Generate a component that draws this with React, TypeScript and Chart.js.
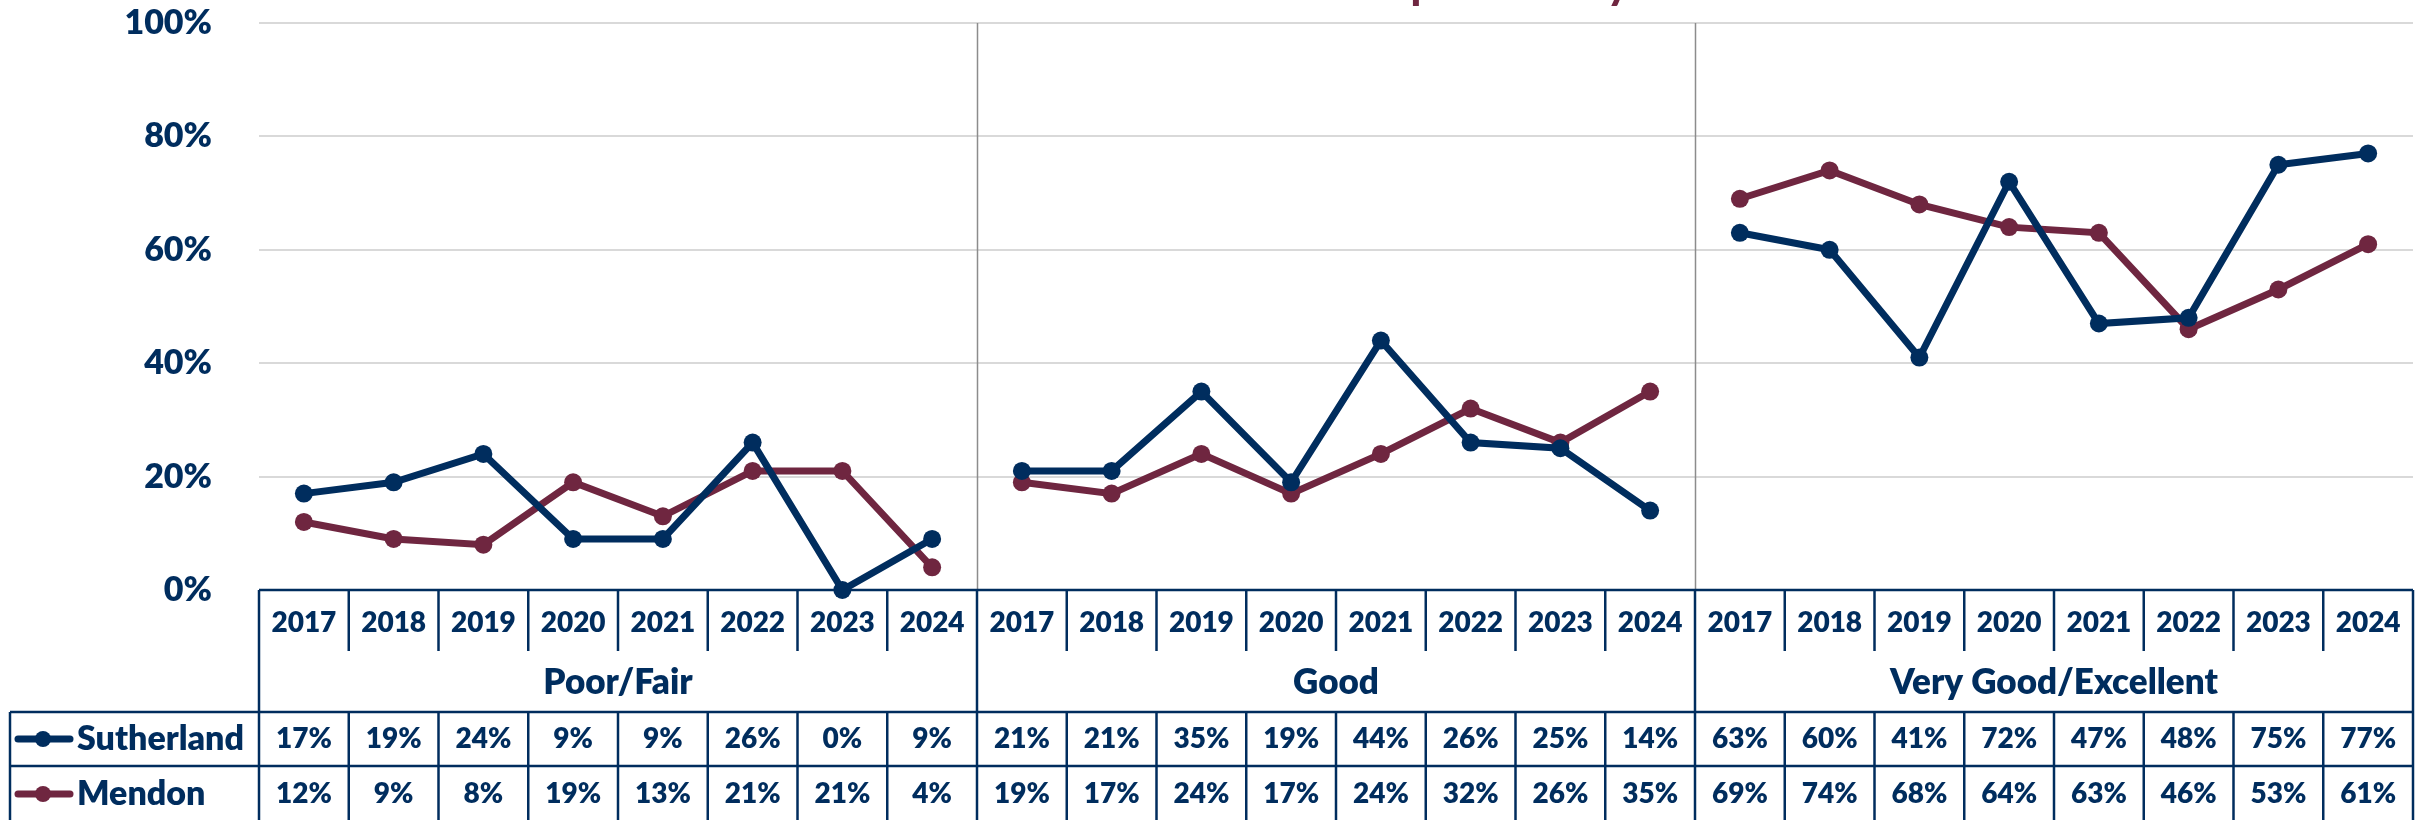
import React, { useEffect, useRef } from 'react';
import { Chart, registerables } from 'chart.js';

Chart.register(...registerables);

const NAVY = '#002D5E';
const MAROON = '#6F2640';
const GRID = '#D9D9D9';
const FONT = 'Lato';
const W = '800';

const TITLE = 'Overall Health Comparison by Year';
const years = ['2017', '2018', '2019', '2020', '2021', '2022', '2023', '2024'];
const groups = ['Poor/Fair', 'Good', 'Very Good/Excellent'];

const sutherlandPoorFair = [17, 19, 24, 9, 9, 26, 0, 9];
const sutherlandGood = [21, 21, 35, 19, 44, 26, 25, 14];
const sutherlandVeryGood = [63, 60, 41, 72, 47, 48, 75, 77];

const mendonPoorFair = [12, 9, 8, 19, 13, 21, 21, 4];
const mendonGood = [19, 17, 24, 17, 24, 32, 26, 35];
const mendonVeryGood = [69, 74, 68, 64, 63, 46, 53, 61];

const yTicks = [0, 20, 40, 60, 80, 100];

const labels = groups.flatMap(() => years);
const series = [
  { name: 'Sutherland', color: NAVY, values: [...sutherlandPoorFair, ...sutherlandGood, ...sutherlandVeryGood] },
  { name: 'Mendon', color: MAROON, values: [...mendonPoorFair, ...mendonGood, ...mendonVeryGood] },
];

const tablePlugin = {
  id: 'excelTable',
  beforeDatasetsDraw(chart: any) {
    const { ctx, chartArea, scales } = chart;
    const x = scales.x;
    const n = labels.length;
    const half = (x.getPixelForValue(1) - x.getPixelForValue(0)) / 2;
    const left = chartArea.left;
    const right = chartArea.right;
    const top = chartArea.bottom;
    const yearBottom = top + 61;
    const headBottom = 712;
    const rowMid = 766;
    const bottom = 822;
    const legendLeft = 10;

    ctx.save();
    // group dividers inside plot
    ctx.strokeStyle = '#8C8C8C';
    ctx.lineWidth = 1.5;
    for (let i = years.length; i < n; i += years.length) {
      const bx = Math.round(x.getPixelForValue(i) - half) + 0.5;
      ctx.beginPath();
      ctx.moveTo(bx, chartArea.top);
      ctx.lineTo(bx, top);
      ctx.stroke();
    }

    ctx.strokeStyle = NAVY;
    ctx.lineWidth = 2.5;
    const line = (x1: number, y1: number, x2: number, y2: number) => {
      ctx.beginPath();
      ctx.moveTo(x1, y1);
      ctx.lineTo(x2, y2);
      ctx.stroke();
    };
    line(left, top, right, top);
    line(legendLeft, headBottom, right, headBottom);
    line(legendLeft, rowMid, right, rowMid);
    line(legendLeft, headBottom, legendLeft, bottom);
    line(left, top, left, bottom);
    line(right, top, right, bottom);
    for (let i = 1; i < n; i++) {
      const bx = x.getPixelForValue(i) - half;
      if (i % years.length === 0) {
        line(bx, top, bx, bottom);
      } else {
        line(bx, top, bx, yearBottom);
        line(bx, headBottom, bx, bottom);
      }
    }

    ctx.fillStyle = NAVY;
    ctx.textAlign = 'center';
    ctx.textBaseline = 'middle';
    ctx.font = `${W} 28px ${FONT}`;
    labels.forEach((lab, i) => {
      ctx.fillText(lab, x.getPixelForValue(i), top + 33);
    });
    ctx.font = `${W} 35px ${FONT}`;
    groups.forEach((g, gi) => {
      const a = x.getPixelForValue(gi * years.length) - half;
      const b = x.getPixelForValue(gi * years.length + years.length - 1) + half;
      ctx.fillText(g, (a + b) / 2, 683);
    });
    const rowY = [739, 794];
    ctx.font = `${W} 28px ${FONT}`;
    series.forEach((s, si) => {
      s.values.forEach((v, i) => {
        ctx.fillText(`${v}%`, x.getPixelForValue(i), rowY[si]);
      });
    });
    // legend keys
    series.forEach((s, si) => {
      const y = rowY[si];
      ctx.strokeStyle = s.color;
      ctx.lineWidth = 7;
      ctx.lineCap = 'round';
      line(18, y, 70, y);
      ctx.fillStyle = s.color;
      ctx.beginPath();
      ctx.arc(43, y, 8, 0, Math.PI * 2);
      ctx.fill();
      ctx.fillStyle = NAVY;
      ctx.textAlign = 'left';
      ctx.font = `${W} 34px ${FONT}`;
      ctx.fillText(s.name, 77, y);
    });
    ctx.restore();
  },
  afterDraw(chart: any) {
    const { ctx, chartArea } = chart;
    ctx.save();
    ctx.fillStyle = MAROON;
    ctx.font = `bold 48px ${FONT}`;
    ctx.textAlign = 'center';
    ctx.textBaseline = 'alphabetic';
    ctx.fillText(TITLE, (chartArea.left + chartArea.right) / 2 + 27, -2);
    ctx.restore();
  },
};

export default function App() {
  const ref = useRef<HTMLCanvasElement>(null);
  useEffect(() => {
    let chart: Chart | null = null;
    let cancelled = false;
    const make = () => {
      if (cancelled || !ref.current) return;
      chart = new Chart(ref.current, {
        type: 'line',
        data: {
          labels,
          datasets: series.map((s) => ({
            label: s.name,
            data: s.values,
            borderColor: s.color,
            backgroundColor: s.color,
            borderWidth: 7,
            pointRadius: 9,
            pointBorderWidth: 0,
            pointBackgroundColor: s.color,
            tension: 0,
            clip: false as any,
            segment: {
              borderColor: (c: any) => (c.p0DataIndex % years.length === years.length - 1 ? 'rgba(0,0,0,0)' : s.color),
            },
          })),
        },
        options: {
          responsive: false,
          animation: false,
          devicePixelRatio: 1,
          layout: { padding: { top: 23, right: 6, bottom: 230, left: 0 } },
          plugins: { legend: { display: false }, tooltip: { enabled: false }, title: { display: false } },
          scales: {
            x: { type: 'category', display: false, offset: true },
            y: {
              min: 0,
              max: 100,
              afterFit: (s: any) => {
                s.width = 259;
                s.paddingTop = 0;
                s.paddingBottom = 0;
              },
              afterBuildTicks: (s: any) => {
                s.ticks = yTicks.map((v) => ({ value: v }));
              },
              ticks: {
                callback: (v: any) => `${v}%`,
                font: { family: FONT, weight: W, size: 34 },
                color: NAVY,
                padding: 47,
              },
              grid: { color: GRID, lineWidth: 2, drawTicks: false },
              border: { display: false },
            },
          },
        },
        plugins: [tablePlugin],
      } as any);
    };
    const fonts: any = (document as any).fonts;
    if (fonts && fonts.load) {
      Promise.all([fonts.load(`bold 34px ${FONT}`), fonts.load(`${W} 34px ${FONT}`)]).then(make, make);
    } else {
      make();
    }
    return () => {
      cancelled = true;
      if (chart) chart.destroy();
    };
  }, []);
  return (
    <div style={{ position: 'fixed', left: 0, top: 0, width: 2422, height: 820, background: '#fff' }}>
      <canvas ref={ref} width={2422} height={820} style={{ width: 2422, height: 820, display: 'block' }} />
    </div>
  );
}
